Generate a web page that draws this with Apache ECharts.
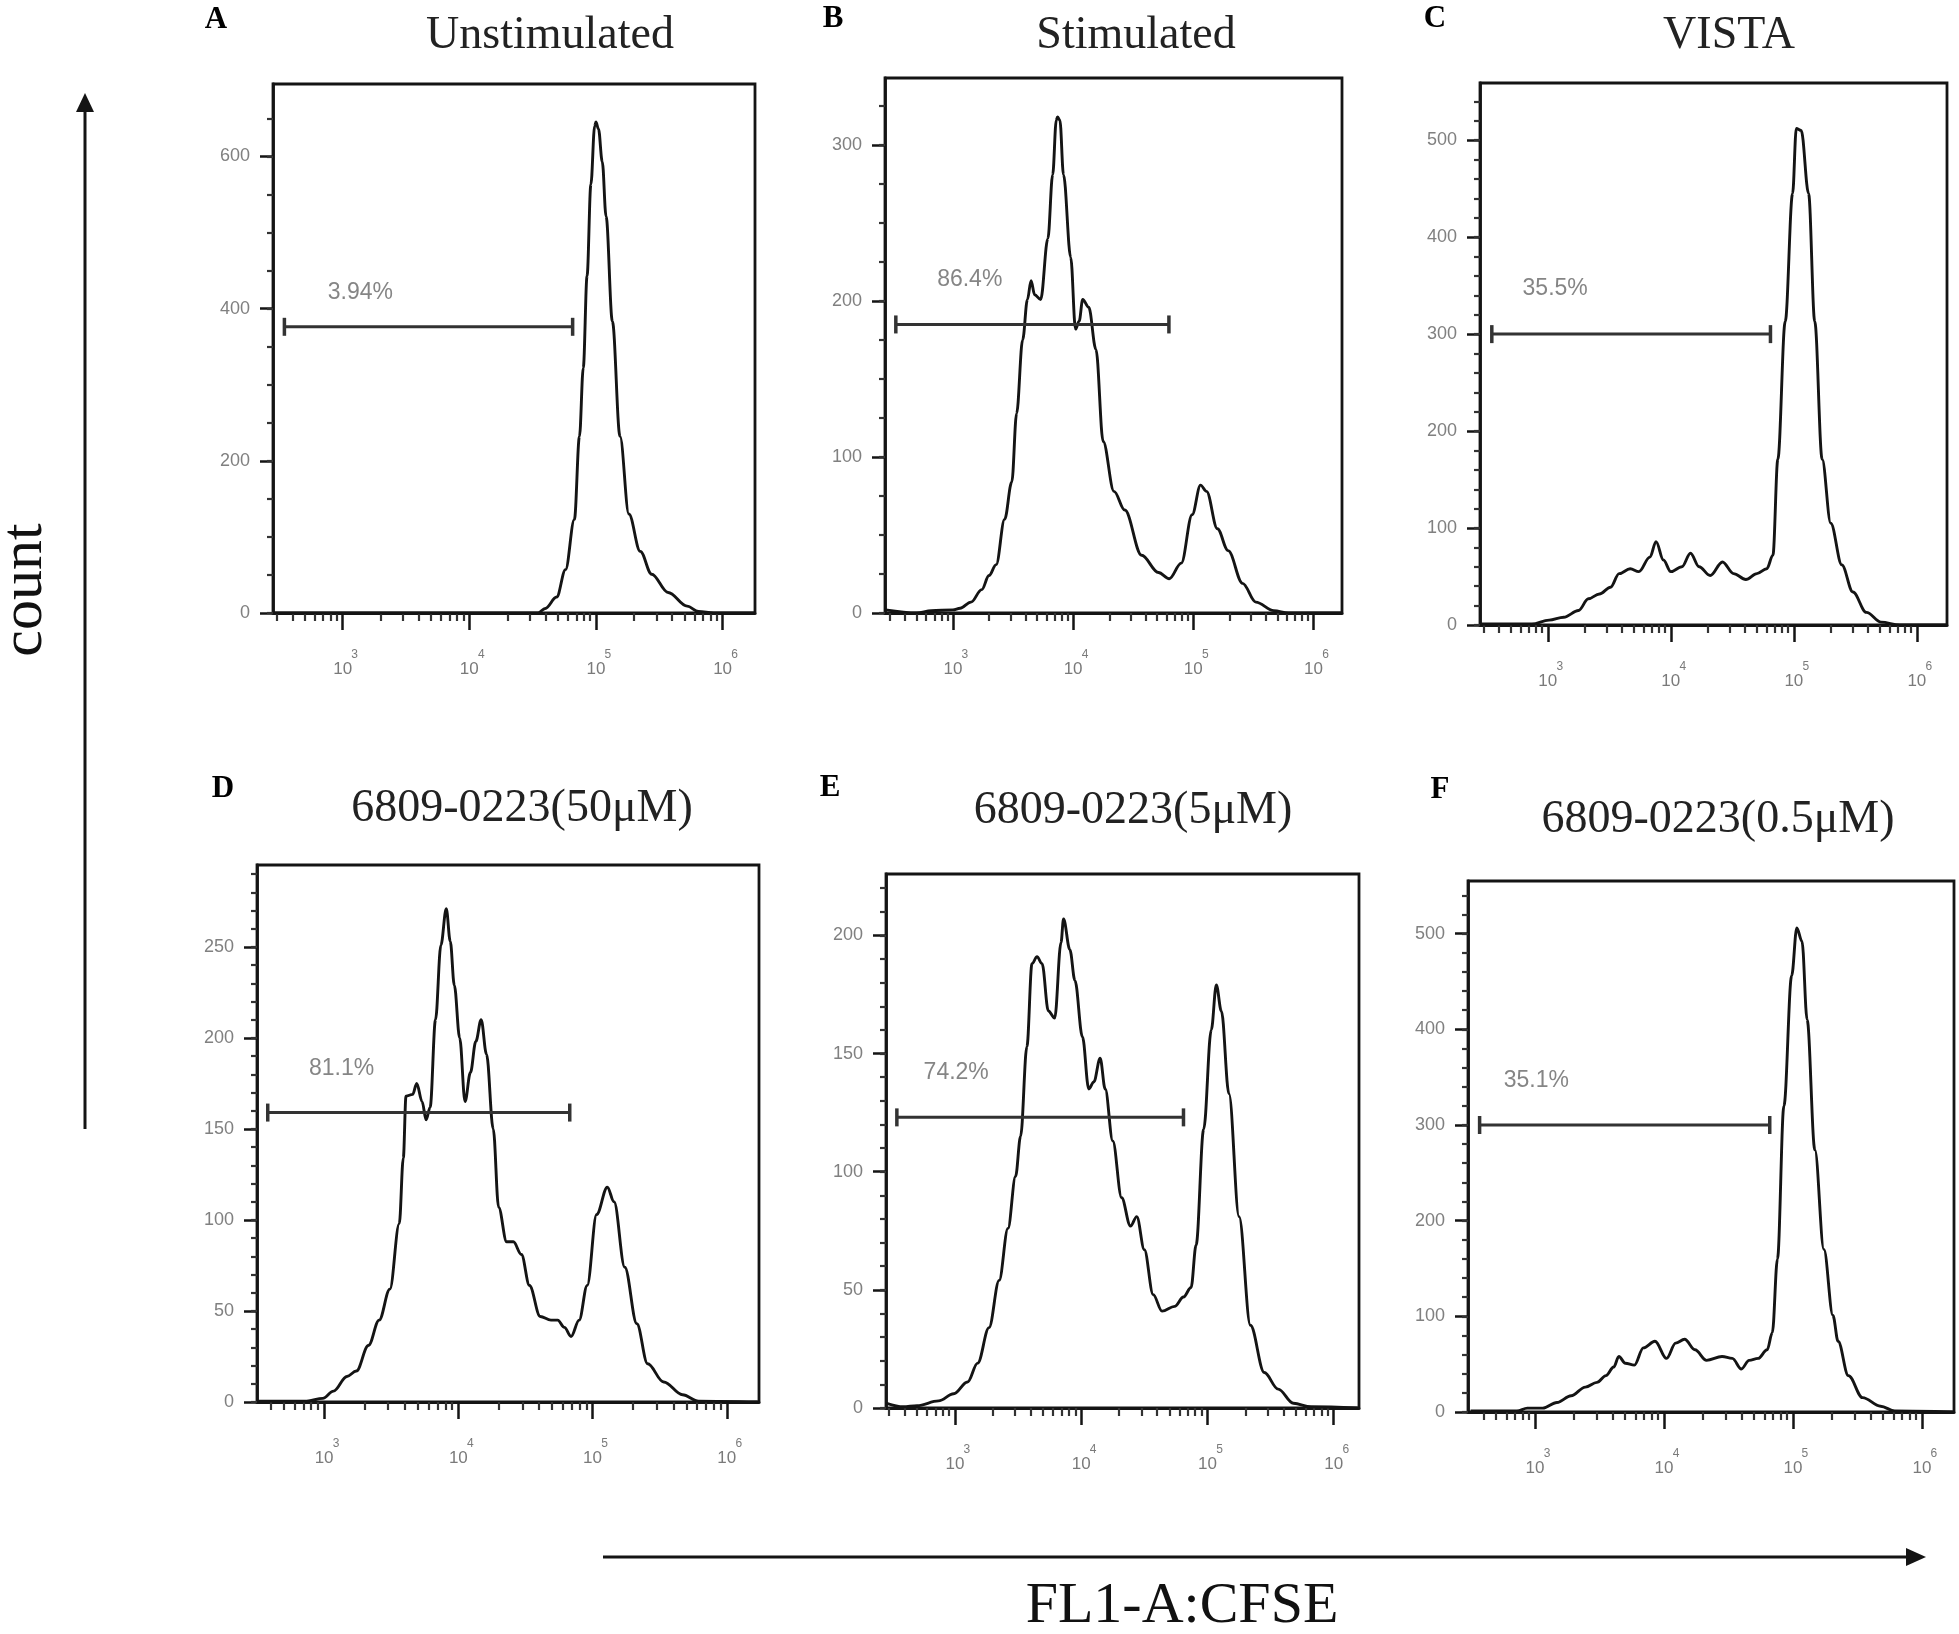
<!DOCTYPE html>
<html>
<head>
<meta charset="utf-8">
<script src="https://cdn.jsdelivr.net/npm/echarts@6/dist/echarts.min.js"></script>
<style>
html,body{margin:0;padding:0;background:#fff;}
#chart{width:1959px;height:1634px;}
</style>
</head>
<body>
<div id="chart"></div>
<script>
// ---------- DATA (x = log10 of FL1-A:CFSE intensity, y = count) ----------
const panelLetters = ['A', 'B', 'C', 'D', 'E', 'F'];
const panelTitles = ['Unstimulated', 'Stimulated', 'VISTA', '6809-0223(50μM)', '6809-0223(5μM)', '6809-0223(0.5μM)'];

const xTickExps = [3, 4, 5, 6];
const yTickLabels = [
  [0, 200, 400, 600],
  [0, 100, 200, 300],
  [0, 100, 200, 300, 400, 500],
  [0, 50, 100, 150, 200, 250],
  [0, 50, 100, 150, 200],
  [0, 100, 200, 300, 400, 500]
];
const yMinorSteps = [50, 25, 20, 10, 10, 20];
const xMin = [2.45, 2.435, 2.449, 2.50, 2.454, 2.48];
const xMax = [6.256, 6.237, 6.245, 6.24, 6.20, 6.249];
const yMax = [695, 343, 559, 295, 226, 555];

const gateLo = [2.54, 2.525, 2.545, 2.58, 2.54, 2.57];
const gateHi = [4.816, 4.797, 4.81, 4.83, 4.81, 4.82];
const gateY = [376, 185, 300, 159, 123, 300];
const gatePct = ['3.94%', '86.4%', '35.5%', '81.1%', '74.2%', '35.1%'];
const gateLabelX = [3.14, 3.14, 3.06, 3.13, 3.01, 3.01];
const gateLabelY = [421, 214, 347, 183, 142, 346];

const curveA = [[2.45,0],[4.54,0],[4.60,6],[4.69,21],[4.76,57],[4.83,123],[4.87,232],[4.90,322],[4.93,443],[4.96,563],[4.99,640],[5.00,645],[5.02,636],[5.05,593],[5.08,521],[5.13,383],[5.19,232],[5.26,130],[5.35,81],[5.44,51],[5.57,27],[5.72,9],[5.81,2],[5.93,0],[6.25,0]];
const curveB = [[2.44,2],[2.70,0],[2.82,1.5],[3.00,2],[3.06,3],[3.15,7],[3.24,15],[3.30,24],[3.36,31],[3.43,60],[3.49,84],[3.53,128],[3.58,175],[3.62,201],[3.65,213],[3.68,204],[3.73,201],[3.79,240],[3.83,281],[3.86,316],[3.87,318],[3.89,316],[3.92,281],[3.98,228],[4.02,182],[4.05,187],[4.08,201],[4.13,196],[4.19,169],[4.25,110],[4.34,78],[4.43,66],[4.57,37],[4.71,26],[4.80,22],[4.90,32],[4.99,63],[5.06,82],[5.11,78],[5.20,54],[5.29,40],[5.41,19],[5.52,7],[5.67,1.5],[5.79,0],[6.23,0]];
const curveC = [[2.46,1],[2.87,1],[3.01,5],[3.13,8],[3.25,15],[3.33,27],[3.42,32],[3.51,39],[3.58,53],[3.67,58],[3.74,55],[3.83,70],[3.88,86],[3.94,67],[4.00,55],[4.09,60],[4.16,74],[4.23,60],[4.32,51],[4.42,65],[4.51,53],[4.61,47],[4.70,53],[4.78,58],[4.83,72],[4.87,171],[4.93,313],[4.99,445],[5.02,512],[5.06,510],[5.12,445],[5.17,313],[5.23,171],[5.30,105],[5.39,62],[5.48,34],[5.59,13],[5.71,3],[5.86,0],[6.24,0]];
const curveD = [[2.51,0.5],[2.87,0.5],[2.99,2],[3.07,6],[3.17,14],[3.24,17],[3.33,31],[3.41,45],[3.49,62],[3.56,98],[3.59,134],[3.61,168],[3.66,169],[3.69,175],[3.73,165],[3.76,155],[3.79,162],[3.83,210],[3.87,251],[3.91,271],[3.94,253],[3.97,229],[4.01,200],[4.05,165],[4.09,181],[4.13,198],[4.17,210],[4.21,191],[4.26,150],[4.30,107],[4.36,88],[4.41,88],[4.47,81],[4.53,64],[4.61,47],[4.69,45],[4.74,45],[4.79,41],[4.84,36],[4.90,45],[4.96,64],[5.03,103],[5.11,118],[5.16,110],[5.24,74],[5.33,43],[5.41,21],[5.53,11],[5.67,4],[5.79,0.5],[6.23,0]];
const curveE = [[2.46,2],[2.59,0.5],[2.70,1],[2.87,3],[2.99,6],[3.10,11],[3.18,19],[3.27,34],[3.35,54],[3.42,76],[3.48,98],[3.52,115],[3.57,153],[3.61,188],[3.65,191],[3.69,188],[3.74,168],[3.79,165],[3.84,197],[3.86,207],[3.91,194],[3.95,181],[4.01,157],[4.06,135],[4.10,138],[4.15,148],[4.19,135],[4.25,113],[4.32,89],[4.39,77],[4.44,81],[4.50,67],[4.57,48],[4.64,41],[4.74,43],[4.81,47],[4.87,51],[4.91,69],[4.97,118],[5.03,160],[5.07,179],[5.11,168],[5.17,133],[5.25,81],[5.34,35],[5.45,15],[5.56,8],[5.68,2],[5.82,0.5],[6.19,0]];
const curveF = [[2.50,1],[2.86,1],[2.94,4],[3.06,4],[3.17,10],[3.28,17],[3.39,26],[3.48,31],[3.55,38],[3.61,47],[3.65,58],[3.70,51],[3.77,49],[3.84,67],[3.93,74],[4.02,56],[4.09,72],[4.16,76],[4.24,65],[4.33,54],[4.45,58],[4.53,56],[4.60,45],[4.66,54],[4.73,56],[4.80,65],[4.84,83],[4.88,160],[4.93,320],[4.99,456],[5.03,506],[5.07,492],[5.11,410],[5.17,274],[5.24,170],[5.31,101],[5.35,74],[5.43,38],[5.54,15],[5.68,6],[5.79,1],[6.24,0]];
const curves = [curveA, curveB, curveC, curveD, curveE, curveF];

// ---------- LAYOUT ----------
const gridBoxes = [
  {left: 273, top: 84, width: 482, height: 529},
  {left: 885, top: 78, width: 457, height: 535},
  {left: 1480, top: 83, width: 467, height: 542},
  {left: 257, top: 865, width: 502, height: 537},
  {left: 886, top: 874, width: 473, height: 534},
  {left: 1468, top: 881, width: 486, height: 531}
];
const titlePos = [[550, 36], [1136, 36], [1729, 36], [522, 809], [1133, 811], [1718, 820]];
const letterPos = [[216, 20], [833, 19], [1435, 19], [223, 789], [830, 788], [1440, 790]];

const ink = '#141414';
const serif = '"Liberation Serif", "Times New Roman", serif';
const sans = '"Liberation Sans", Arial, sans-serif';

const option = {
  animation: false,
  backgroundColor: '#ffffff',
  grid: [], xAxis: [], yAxis: [], series: [], graphic: []
};

curves.forEach((curve, i) => {
  option.grid.push(Object.assign({show: true, borderColor: ink, borderWidth: 2.8, backgroundColor: 'transparent'}, gridBoxes[i]));

  const minorX = [];
  for (let n = 2; n <= 6; n++) {
    for (let k = 2; k <= 9; k++) {
      const v = n + Math.log10(k);
      if (v > xMin[i] && v < xMax[i]) minorX.push(v);
    }
  }
  const minorY = [];
  for (let v = 0; v <= yMax[i]; v += yMinorSteps[i]) minorY.push(v);

  option.xAxis.push({
    type: 'value', gridIndex: i, position: 'bottom', min: xMin[i], max: xMax[i],
    axisLine: {show: true, onZero: false, lineStyle: {color: ink, width: 2.8}},
    axisTick: {show: true, customValues: xTickExps, length: 17, lineStyle: {color: ink, width: 2.5}},
    axisLabel: {
      show: true, customValues: xTickExps, margin: 35,
      formatter: v => '{s|' + Math.round(v) + '}\n{b|10}',
      rich: {
        s: {fontSize: 12, fontFamily: sans, color: '#7a7a7a', lineHeight: 13, padding: [0, 0, 0, 24]},
        b: {fontSize: 17, fontFamily: sans, color: '#7a7a7a', lineHeight: 17}
      }
    },
    splitLine: {show: false}
  });
  option.xAxis.push({
    type: 'value', gridIndex: i, position: 'bottom', min: xMin[i], max: xMax[i],
    axisLine: {show: false, onZero: false},
    axisTick: {show: true, customValues: minorX, length: 8, lineStyle: {color: '#333', width: 2.2}},
    axisLabel: {show: false}, splitLine: {show: false}
  });
  option.yAxis.push({
    type: 'value', gridIndex: i, position: 'left', min: 0, max: yMax[i],
    axisLine: {show: true, onZero: false, lineStyle: {color: ink, width: 2.8}},
    axisTick: {show: true, customValues: yTickLabels[i], length: 13, lineStyle: {color: ink, width: 2.5}},
    axisLabel: {show: true, customValues: yTickLabels[i], margin: 23, fontSize: 18, fontFamily: sans, color: '#808080'},
    splitLine: {show: false}
  });
  option.yAxis.push({
    type: 'value', gridIndex: i, position: 'left', min: 0, max: yMax[i],
    axisLine: {show: false, onZero: false},
    axisTick: {show: true, customValues: minorY, length: 6, lineStyle: {color: '#333', width: 2.2}},
    axisLabel: {show: false}, splitLine: {show: false}
  });

  option.series.push({
    type: 'line', xAxisIndex: 2 * i, yAxisIndex: 2 * i, data: curve,
    symbol: 'none', smooth: 0.35, smoothMonotone: 'x', silent: true, z: 3,
    lineStyle: {color: ink, width: 2.9}
  });
  option.series.push({
    type: 'line', xAxisIndex: 2 * i, yAxisIndex: 2 * i,
    data: [[gateLo[i], gateY[i]], [gateHi[i], gateY[i]]],
    symbol: 'rect', symbolSize: [3.5, 18], showSymbol: true, silent: true, z: 4,
    itemStyle: {color: '#333'}, lineStyle: {color: '#333', width: 3}
  });
  option.series.push({
    type: 'scatter', xAxisIndex: 2 * i, yAxisIndex: 2 * i,
    data: [[gateLabelX[i], gateLabelY[i]]], symbolSize: 0, silent: true, z: 5,
    itemStyle: {color: 'transparent'},
    label: {show: true, position: 'inside', formatter: gatePct[i], fontSize: 23, fontFamily: sans, color: '#666'}
  });

  option.graphic.push({
    type: 'text', x: titlePos[i][0], y: titlePos[i][1],
    style: {text: panelTitles[i], font: '46px ' + serif, fill: '#222',
      textAlign: 'center', textVerticalAlign: 'middle', align: 'center', verticalAlign: 'middle'}
  });
  option.graphic.push({
    type: 'text', x: letterPos[i][0], y: letterPos[i][1],
    style: {text: panelLetters[i], font: 'bold 31px ' + serif, fill: '#000',
      textAlign: 'center', textVerticalAlign: 'middle', align: 'center', verticalAlign: 'middle'}
  });
});

// overall axis annotations
option.graphic.push(
  {type: 'line', shape: {x1: 85, y1: 1129, x2: 85, y2: 108}, style: {stroke: ink, lineWidth: 3}},
  {type: 'polygon', shape: {points: [[85, 93], [76, 112], [94, 112]]}, style: {fill: ink}},
  {type: 'line', shape: {x1: 603, y1: 1557, x2: 1910, y2: 1557}, style: {stroke: ink, lineWidth: 3}},
  {type: 'polygon', shape: {points: [[1926, 1557], [1906, 1548], [1906, 1566]]}, style: {fill: ink}},
  {type: 'text', x: 25, y: 590, rotation: Math.PI / 2,
    style: {text: 'count', font: '60px ' + serif, fill: '#111',
      textAlign: 'center', textVerticalAlign: 'middle', align: 'center', verticalAlign: 'middle'}},
  {type: 'text', x: 1182, y: 1607,
    style: {text: 'FL1-A:CFSE', font: '58px ' + serif, fill: '#111',
      textAlign: 'center', textVerticalAlign: 'middle', align: 'center', verticalAlign: 'middle'}}
);

const chart = echarts.init(document.getElementById('chart'), null, {renderer: 'canvas'});
chart.setOption(option);
</script>
</body>
</html>
